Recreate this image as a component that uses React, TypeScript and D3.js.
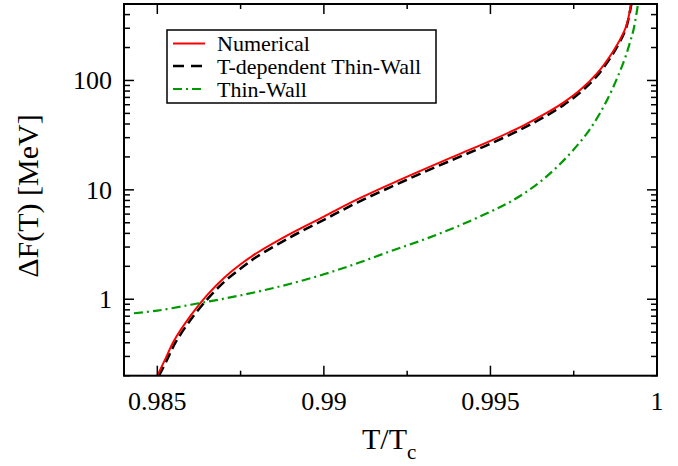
import React from "react";
import * as d3 from "d3";

const numT = [0.985, 0.98525, 0.9855, 0.986, 0.9865, 0.987, 0.9875, 0.988, 0.989, 0.99, 0.991, 0.992, 0.993, 0.994, 0.995, 0.996, 0.9967, 0.9972, 0.9977, 0.9982, 0.9987, 0.999, 0.9991, 0.99922];
const numF = [0.2, 0.288, 0.417, 0.708, 1.096, 1.567, 2.089, 2.661, 3.98, 5.7, 8.17, 11.3, 15.4, 20.8, 28.0, 38.9, 50.7, 63.1, 82.2, 116, 188, 275, 331, 500];

const tdT = [0.98505, 0.9853, 0.98555, 0.98605, 0.98655, 0.98705, 0.98755, 0.988, 0.989, 0.99, 0.991, 0.992, 0.993, 0.994, 0.995, 0.996, 0.9967, 0.9972, 0.9977, 0.9982, 0.9987, 0.999, 0.9991, 0.99923];
const tdF = [0.2, 0.283, 0.405, 0.68, 1.04, 1.48, 1.96, 2.46, 3.7, 5.32, 7.65, 10.6, 14.5, 19.6, 26.4, 36.8, 48.0, 59.8, 78.0, 110, 180, 266, 322, 500];

const twT = [0.9843, 0.985, 0.986, 0.987, 0.988, 0.989, 0.99, 0.991, 0.992, 0.993, 0.994, 0.995, 0.9955, 0.996, 0.9965, 0.997, 0.9975, 0.998, 0.9985, 0.999, 0.9992, 0.9993, 0.99943];
const twF = [0.745, 0.787, 0.891, 1.012, 1.17, 1.387, 1.69, 2.13, 2.75, 3.51, 4.62, 6.31, 7.5, 9.23, 11.9, 16.2, 23.4, 36.3, 66.1, 148, 229, 295, 500];

const xTicks = [0.985, 0.99, 0.995, 1];
const xTickLabels = ["0.985", "0.99", "0.995", "1"];
const xMinor = [0.9875, 0.9925, 0.9975];
const yTicks = [1, 10, 100];
const yTickLabels = ["1", "10", "100"];
const yMinor = [0.2, 0.3, 0.4, 0.5, 0.6, 0.7, 0.8, 0.9, 2, 3, 4, 5, 6, 7, 8, 9, 20, 30, 40, 50, 60, 70, 80, 90, 200, 300, 400, 500];

const seriesNames = ["Numerical", "T-dependent Thin-Wall", "Thin-Wall"];

const L = 124, R = 657, T = 4, B = 375.7;
const font = "'Liberation Serif', 'Times New Roman', serif";

export default function App() {
  const x = d3.scaleLinear().domain([0.984, 1.0]).range([L, R]);
  const y = d3.scaleLog().domain([0.2, 500]).range([B, T]);
  const line = d3
    .line<[number, number]>()
    .x((d) => x(d[0]))
    .y((d) => y(d[1]))
    .curve(d3.curveCatmullRom.alpha(0.5));
  const zip = (a: number[], b: number[]) => a.map((v, i) => [v, b[i]] as [number, number]);

  const styles = [
    { stroke: "#ff0000", width: 2, dash: undefined as string | undefined },
    { stroke: "#000000", width: 2.6, dash: "10,5" },
    { stroke: "#009a00", width: 2.2, dash: "9,4,2,4" },
  ];
  const data = [zip(numT, numF), zip(tdT, tdF), zip(twT, twF)];
  const rowY = [43.5, 66, 89];

  return (
    <svg width={678} height={466} style={{ position: "absolute", left: 0, top: 0, background: "#fff" }}>
      <defs>
        <clipPath id="plotclip">
          <rect x={L} y={T} width={R - L} height={B - T} />
        </clipPath>
      </defs>
      <rect x={0} y={0} width={678} height={466} fill="#fff" />
      <g clipPath="url(#plotclip)">
        {[1, 0, 2].map((i) => (
          <path
            key={i}
            d={line(data[i]) || ""}
            fill="none"
            stroke={styles[i].stroke}
            strokeWidth={styles[i].width}
            strokeDasharray={styles[i].dash}
          />
        ))}
      </g>
      <g stroke="#000" strokeWidth={1.5}>
        {xTicks.map((t, i) => (
          <g key={"xt" + i}>
            <line x1={x(t)} x2={x(t)} y1={B} y2={B - 10} />
            <line x1={x(t)} x2={x(t)} y1={T} y2={T + 10} />
          </g>
        ))}
        {xMinor.map((t, i) => (
          <g key={"xm" + i}>
            <line x1={x(t)} x2={x(t)} y1={B} y2={B - 5} />
            <line x1={x(t)} x2={x(t)} y1={T} y2={T + 5} />
          </g>
        ))}
        {yTicks.map((t, i) => (
          <g key={"yt" + i}>
            <line x1={L} x2={L + 10} y1={y(t)} y2={y(t)} />
            <line x1={R} x2={R - 10} y1={y(t)} y2={y(t)} />
          </g>
        ))}
        {yMinor.map((t, i) => (
          <g key={"ym" + i}>
            <line x1={L} x2={L + 6} y1={y(t)} y2={y(t)} />
            <line x1={R} x2={R - 6} y1={y(t)} y2={y(t)} />
          </g>
        ))}
      </g>
      <rect x={L} y={T} width={R - L} height={B - T} fill="none" stroke="#000" strokeWidth={2} />
      <g fontFamily={font} fontSize={26} fill="#000">
        {xTicks.map((t, i) => (
          <text key={"xl" + i} x={x(t)} y={410} textAnchor="middle">
            {xTickLabels[i]}
          </text>
        ))}
        {yTicks.map((t, i) => (
          <text key={"yl" + i} x={112} y={y(t) + 9} textAnchor="end">
            {yTickLabels[i]}
          </text>
        ))}
      </g>
      <text x={362} y={449} fontFamily={font} fontSize={30} fill="#000">
        T/T<tspan fontSize={21} dy={10}>c</tspan>
      </text>
      <text
        transform="translate(38,196) rotate(-90)"
        textAnchor="middle"
        fontFamily={font}
        fontSize={30}
        fill="#000"
      >
        ΔF(T) [MeV]
      </text>
      <rect x={167} y={30} width={269} height={73} fill="#fff" stroke="#000" strokeWidth={1.5} />
      {seriesNames.map((n, i) => (
        <g key={"lg" + i}>
          <line
            x1={173}
            x2={205}
            y1={rowY[i]}
            y2={rowY[i]}
            stroke={styles[i].stroke}
            strokeWidth={styles[i].width}
            strokeDasharray={i === 1 ? "11,7" : styles[i].dash}
          />
          <text x={217} y={rowY[i] + 7.5} fontFamily={font} fontSize={22} fill="#000">
            {n}
          </text>
        </g>
      ))}
    </svg>
  );
}
